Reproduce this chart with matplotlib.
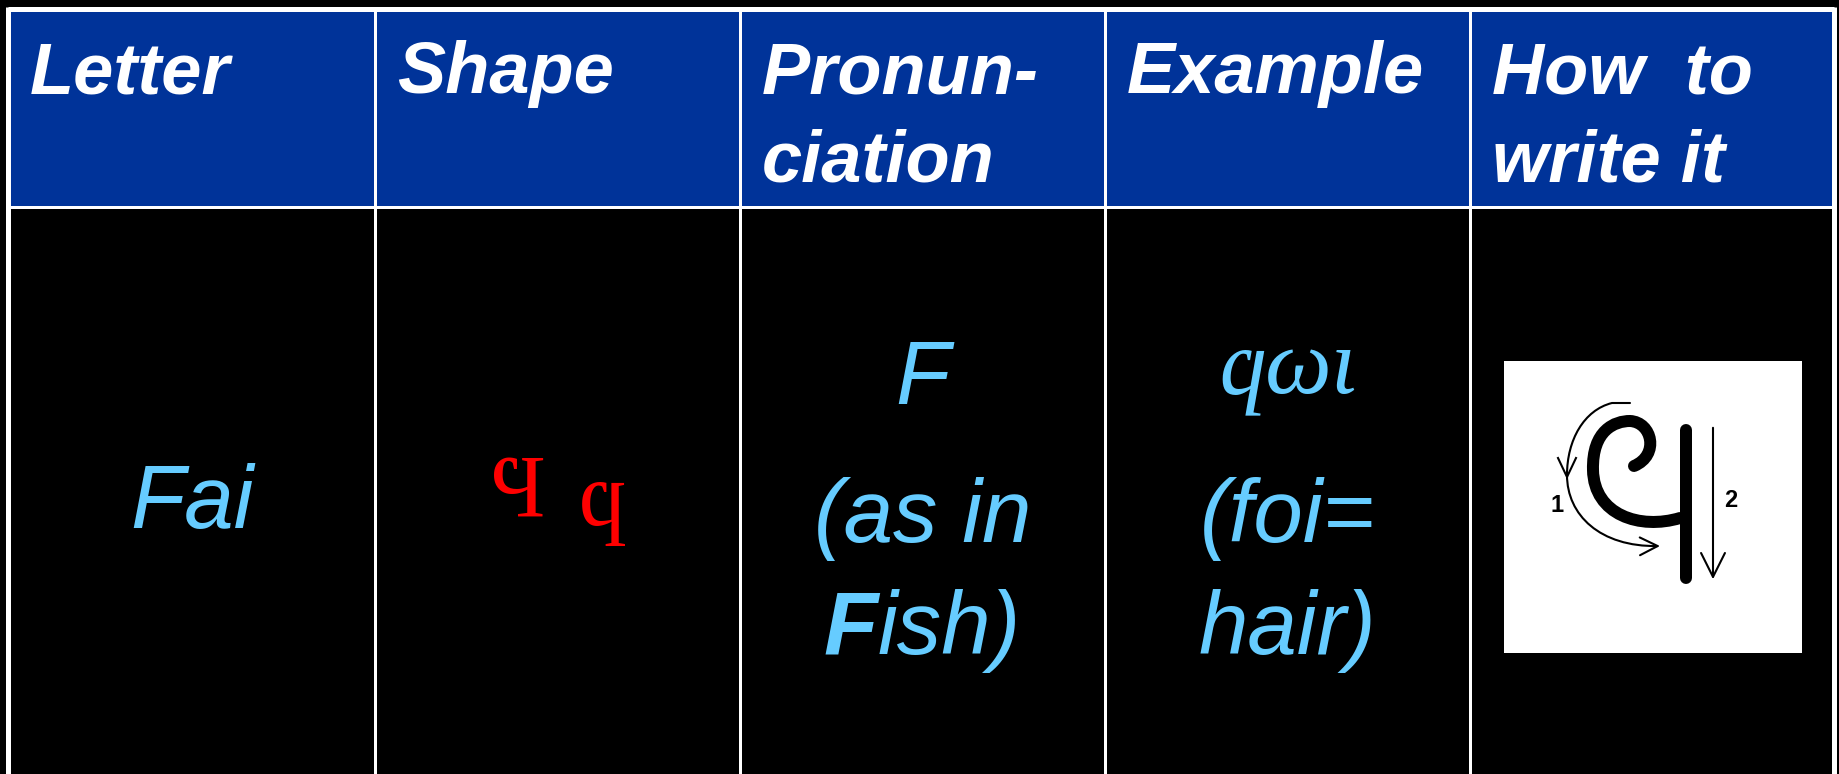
import matplotlib.pyplot as plt
from matplotlib.patches import Rectangle, FancyArrowPatch, PathPatch
from matplotlib.path import Path

# table content
headers = ["Letter", "Shape", "Pronun-\nciation", "Example", "How  to\nwrite it"]
letter_name = "Fai"
shape_glyphs = ["Ϥ", "ϥ"]
pron_lines = ["F", "(as in", "Fish)"]
example_lines = ["ϥωι", "(foi=", "hair)"]

W, H = 1839, 774
col_edges = [8, 375, 740, 1105, 1470, 1834]
top, head_bot = 9, 207
PX = 0.72  # points per pixel at dpi 100

blue = '#003399'
light = '#66CCFF'
serif = ['Liberation Serif', 'DejaVu Serif']

fig = plt.figure(figsize=(W / 100, H / 100), dpi=100, facecolor='black')
ax = fig.add_axes([0, 0, 1, 1])
ax.set_xlim(0, W)
ax.set_ylim(H, 0)
ax.axis('off')
r = fig.canvas.get_renderer()

# header band + grid
ax.add_patch(Rectangle((col_edges[0], top), col_edges[-1] - col_edges[0], head_bot - top,
                       facecolor=blue, edgecolor='none'))
for i, x in enumerate(col_edges):
    lw = 5 if i in (0, len(col_edges) - 1) else 3
    ax.plot([x, x], [top - 2, H + 5], color='white', lw=lw * PX, solid_capstyle='butt')
ax.plot([col_edges[0], col_edges[-1]], [top, top], color='white', lw=5 * PX, solid_capstyle='butt')
ax.plot([col_edges[0], col_edges[-1]], [head_bot, head_bot], color='white', lw=3 * PX, solid_capstyle='butt')

# header labels
hfont = dict(family='Liberation Sans', weight='bold', style='italic', size=52, color='white')
for x0, label in zip(col_edges[:-1], headers):
    for j, line in enumerate(label.split('\n')):
        ax.text(x0 + 22, 93 + 88 * j, line, ha='left', va='baseline', **hfont)

centers = [(a + b) / 2 for a, b in zip(col_edges[:-1], col_edges[1:])]
bfont = dict(family='Liberation Sans', style='italic', size=64, color=light)
base_y = [404, 542, 654]


def centered_pair(xc, parts, ys, styles):
    # two runs of text side by side, centred together on xc
    ts = [ax.text(0, y, s, ha='left', va='baseline', **st) for s, y, st in zip(parts, ys, styles)]
    ws = [t.get_window_extent(r).width for t in ts]
    x = xc - sum(ws) / 2
    for t, w in zip(ts, ws):
        t.set_x(x)
        x += w


# letter name
ax.text(centers[0], 528, letter_name, ha='center', va='baseline', **bfont)

# shape: capital sits on the line, small letter hangs lower
ax.text(518, 516, shape_glyphs[0], ha='center', va='baseline', family=serif, size=64, color='red')
ax.text(603, 546, shape_glyphs[1], ha='center', va='baseline', family=serif, size=66, color='red')

# pronunciation
for y, line in zip(base_y, pron_lines):
    if line == pron_lines[-1]:
        centered_pair(centers[2], [line[0], line[1:]], [y, y],
                      [dict(bfont, weight='bold'), bfont])
    else:
        ax.text(centers[2], y, line, ha='center', va='baseline', **bfont)

# example
gl = example_lines[0]
centered_pair(centers[3], [gl[0], gl[1:]], [414, 393],
              [dict(family=serif, style='italic', size=67, color=light),
               dict(family=serif, style='italic', size=68, color=light)])
for y, line in zip(base_y[1:], example_lines[1:]):
    ax.text(centers[3], y, line, ha='center', va='baseline', **bfont)

# how to write it: stroke order picture
ax.add_patch(Rectangle((1504, 361), 298, 292, facecolor='white', edgecolor='none'))
curl = Path([(1680, 518), (1640, 530), (1594, 515), (1593, 470),
             (1592, 430), (1615, 421), (1630, 421),
             (1652, 422), (1660, 455), (1634, 466)],
            [Path.MOVETO] + [Path.CURVE4] * 9)
ax.add_patch(PathPatch(curl, facecolor='none', edgecolor='black', lw=12 * PX, capstyle='round'))
ax.plot([1686, 1686], [430, 578], color='black', lw=12 * PX, solid_capstyle='round')

stroke1 = Path([(1630, 403), (1612, 403), (1584, 410), (1567, 440), (1567, 475),
                (1567, 515), (1600, 547), (1660, 546)],
               [Path.MOVETO, Path.LINETO, Path.CURVE4, Path.CURVE4, Path.CURVE4,
                Path.CURVE4, Path.CURVE4, Path.CURVE4])
ax.add_patch(FancyArrowPatch(path=stroke1, arrowstyle='->', mutation_scale=32,
                             lw=1.5, color='black'))
ax.plot([1558, 1567, 1576], [458, 477, 458], color='black', lw=1.5)
ax.add_patch(FancyArrowPatch((1713, 425), (1713, 582), arrowstyle='->', mutation_scale=43,
                             lw=1.5, color='black'))
ax.text(1557, 512, "1", ha='center', va='baseline', family='Liberation Sans', weight='bold',
        size=17, color='black')
ax.text(1731, 507, "2", ha='center', va='baseline', family='Liberation Sans', weight='bold',
        size=17, color='black')

fig.savefig('out.png', dpi=100, facecolor='black')
